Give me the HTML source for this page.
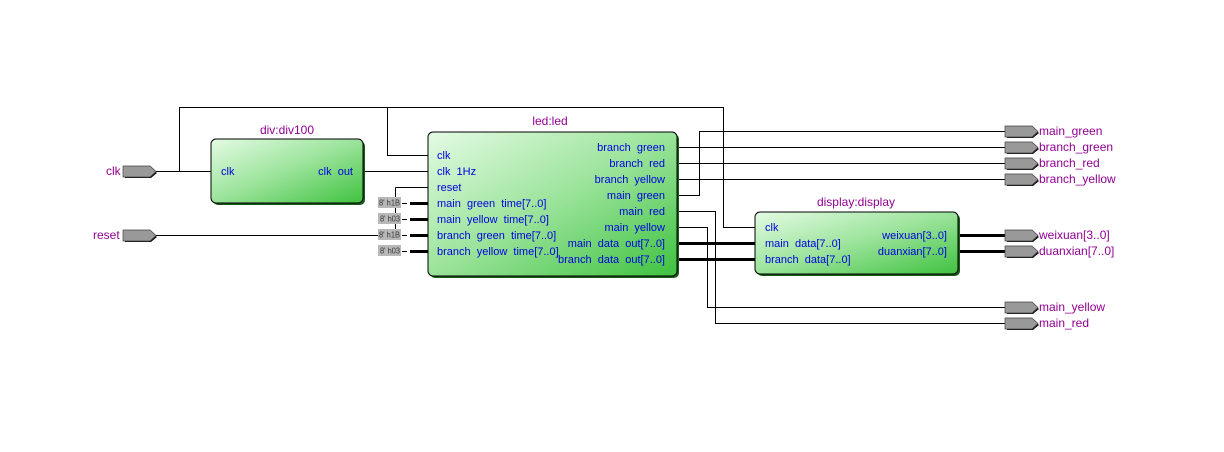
<!DOCTYPE html>
<html><head><meta charset="utf-8"><style>
html,body{margin:0;padding:0;background:#fff;width:1224px;height:452px;overflow:hidden}
svg{display:block}
.t{font-family:"Liberation Sans",sans-serif;font-size:11px}
.p{fill:#0000e0}
.n{fill:#900090;font-size:12px}
.c{font-size:8px;fill:#333}
</style></head><body>
<svg width="1224" height="452" viewBox="0 0 1224 452" xmlns="http://www.w3.org/2000/svg" xml:space="preserve">
<defs>
<linearGradient id="g" x1="0" y1="0" x2="1" y2="1">
<stop offset="0" stop-color="#e4fbe4"/><stop offset="0.5" stop-color="#9ae39a"/><stop offset="1" stop-color="#3fc23f"/>
</linearGradient>
<g id="pin"><path d="M2,2 h26 l6,5 l-6,5 h-26z" fill="#111"/><path d="M0,0 h27 l6,5.5 l-6,5.5 h-27z" fill="#999" stroke="#444" stroke-width="0.7"/></g>
</defs>
<g stroke="#000" stroke-width="1" fill="none">
<path d="M156,171.5H211M179.5,171.5V107.5H387.5V155.5H428M387.5,107.5H723.5V227.5H755"/>
<path d="M363,171.5H428"/>
<path d="M156,235.5H380M395.5,187.5V235M395.5,187.5H428"/>
<path d="M677,147.5H1005M677,163.5H1005M677,179.5H1005"/>
<path d="M677,195.5H699.5V131.5H1005"/>
<path d="M677,211.5H715.5V323.5H1005"/>
<path d="M677,227.5H707.5V307.5H1005"/>
</g>
<g stroke="#000" stroke-width="3" fill="none">
<path d="M410,203.5H428M410,219.5H428M410,235.5H428M410,251.5H428"/>
<path d="M677,243.5H755M677,259.5H755M958,235.5H1005M958,251.5H1005"/>
</g>
<g class="t">
<rect x="378" y="197" width="23" height="11" fill="#b8b8b8"/><text x="379" y="205.5" class="c" textLength="21" lengthAdjust="spacingAndGlyphs">8' h1B</text>
<rect x="378" y="213" width="23" height="11" fill="#b8b8b8"/><text x="380" y="221.5" class="c" textLength="20" lengthAdjust="spacingAndGlyphs">8' h03</text>
<rect x="378" y="229" width="23" height="11" fill="#b8b8b8"/><text x="379" y="237.5" class="c" textLength="21" lengthAdjust="spacingAndGlyphs">8' h1B</text>
<rect x="378" y="245" width="23" height="11" fill="#b8b8b8"/><text x="380" y="253.5" class="c" textLength="20" lengthAdjust="spacingAndGlyphs">8' h03</text>
</g>
<g stroke="#000" stroke-width="1"><path d="M402,203.5h5M402,219.5h5M402,235.5h5M402,251.5h5"/></g>
<use href="#pin" x="123" y="166"/><use href="#pin" x="123" y="230"/>
<use href="#pin" x="1005" y="126"/><use href="#pin" x="1005" y="142"/><use href="#pin" x="1005" y="158"/><use href="#pin" x="1005" y="174"/>
<use href="#pin" x="1005" y="230"/><use href="#pin" x="1005" y="246"/>
<use href="#pin" x="1005" y="302"/><use href="#pin" x="1005" y="318"/>
<g class="t n">
<text x="106" y="175">clk</text><text x="93" y="239">reset</text>
<text x="1039" y="135">main_green</text><text x="1039" y="151">branch_green</text>
<text x="1039" y="167">branch_red</text><text x="1039" y="183">branch_yellow</text>
<text x="1039" y="239">weixuan[3..0]</text><text x="1039" y="255">duanxian[7..0]</text>
<text x="1039" y="311">main_yellow</text><text x="1039" y="327">main_red</text>
<text x="287" y="134" text-anchor="middle">div:div100</text>
<text x="550" y="125" text-anchor="middle">led:led</text>
<text x="856" y="206" text-anchor="middle">display:display</text>
</g>
<rect x="213" y="141" width="152" height="64" rx="5" fill="#1a5a1a"/>
<rect x="211" y="139" width="152" height="64" rx="5" fill="url(#g)" stroke="#000"/>
<rect x="430" y="134" width="249" height="144" rx="5" fill="#1a5a1a"/>
<rect x="428" y="132" width="249" height="144" rx="5" fill="url(#g)" stroke="#000"/>
<rect x="757" y="214" width="203" height="62" rx="5" fill="#1a5a1a"/>
<rect x="755" y="212" width="203" height="62" rx="5" fill="url(#g)" stroke="#000"/>
<g class="t p">
<text x="221" y="175">clk</text><text x="353" y="175" text-anchor="end">clk &#160;out</text>
<text x="437" y="159">clk</text><text x="437" y="175">clk &#160;1Hz</text><text x="437" y="191">reset</text>
<text x="437" y="207">main &#160;green &#160;time[7..0]</text><text x="437" y="223">main &#160;yellow &#160;time[7..0]</text>
<text x="437" y="239">branch &#160;green &#160;time[7..0]</text><text x="437" y="255">branch &#160;yellow &#160;time[7..0]</text>
<g text-anchor="end">
<text x="665" y="151">branch &#160;green</text><text x="665" y="167">branch &#160;red</text><text x="665" y="183">branch &#160;yellow</text>
<text x="665" y="199">main &#160;green</text><text x="665" y="215">main &#160;red</text><text x="665" y="231">main &#160;yellow</text>
<text x="665" y="247">main &#160;data &#160;out[7..0]</text><text x="665" y="263">branch &#160;data &#160;out[7..0]</text>
<text x="947" y="239">weixuan[3..0]</text><text x="947" y="255">duanxian[7..0]</text>
</g>
<text x="765" y="231">clk</text><text x="765" y="247">main &#160;data[7..0]</text><text x="765" y="263">branch &#160;data[7..0]</text>
</g>
</svg>
</body></html>
